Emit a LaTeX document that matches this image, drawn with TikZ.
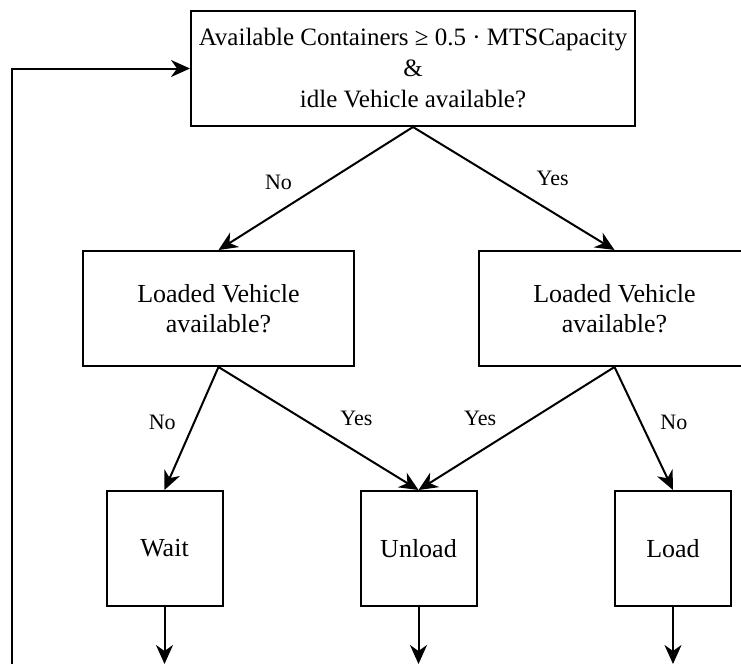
\documentclass[tikz,border=0pt]{standalone}
\usepackage{fontspec}
\setmainfont{Liberation Serif}
\usetikzlibrary{arrows.meta,positioning}
\tikzset{
    box/.style={draw, line width=2pt, minimum height=115pt, inner sep=0pt,
        align=center, font=\fontsize{26}{30}\selectfont},
    arr/.style={line width=2pt, -{Stealth[length=19pt,width=17pt,inset=6pt]}},
    lbl/.style={font=\fontsize{22}{26}\selectfont}
}

\begin{document}
\begin{tikzpicture}[x=1pt,y=-1pt]

    % Fix the page to the size of the picture
    \useasboundingbox (0,0) rectangle (741,664);
    \clip (0,0) rectangle (741,664);

    % The first decision
    \node[box, minimum width=444pt, font=\fontsize{25}{31}\selectfont] (check) at (413,68.5)
        {Available Containers ≥ 0.5 · MTSCapacity\\\&\\idle Vehicle available?};

    % The two second decisions
    \node[box, minimum width=271pt] (leftq) at (218.5,308.5) {Loaded Vehicle\\available?};
    \node[box, minimum width=271pt] (rightq) at (614.5,308.5) {Loaded Vehicle\\available?};

    % The three actions
    \foreach \b/\x/\t in {wait/164.5/Wait, unload/418.5/Unload, load/673/Load}{
        \node[box, minimum width=116pt] (\b) at (\x,548.5) {\t};
        \path (\b.south) ++(0,57) coordinate (\b-out);
        \draw[arr] (\b.south) -- (\b-out);
    }

    % Arrows out of the first decision
    \draw[arr] (check.south) -- (leftq.north) node[lbl, pos=.45, xshift=-47pt] {No};
    \draw[arr] (check.south) -- (rightq.north) node[lbl, pos=.42, xshift=55pt] {Yes};

    % Arrows out of the second decisions
    \draw[arr] (leftq.south) -- (wait.north) node[lbl, pos=.45, xshift=-32pt] {No};
    \draw[arr] (leftq.south) -- (unload.north) node[lbl, pos=.42, xshift=54pt] {Yes};
    \draw[arr] (rightq.south) -- (unload.north) node[lbl, pos=.42, xshift=-52pt] {Yes};
    \draw[arr] (rightq.south) -- (load.north) node[lbl, pos=.45, xshift=33pt] {No};

    % Loop back to the first decision
    \coordinate (back) at (12,664);
    \draw[arr] (back) |- (check.west);

\end{tikzpicture}
\end{document}
